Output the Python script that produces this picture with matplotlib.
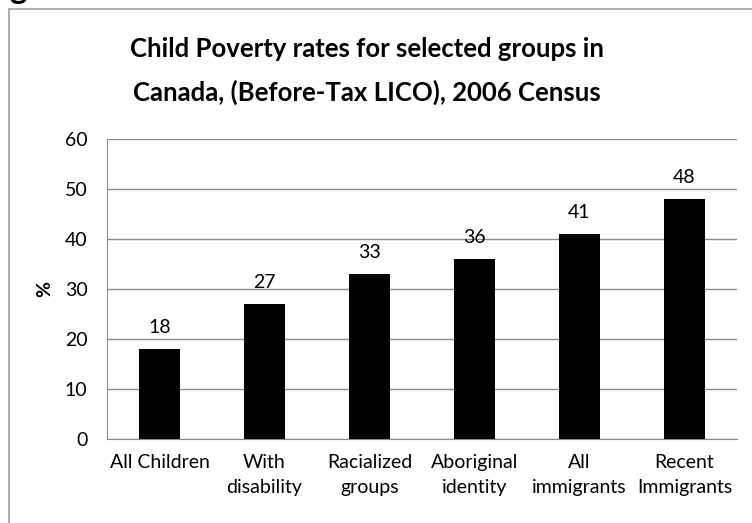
import matplotlib.pyplot as plt
from matplotlib.patches import Rectangle

# data
groups = ["All Children", "With\ndisability", "Racialized\ngroups", "Aboriginal\nidentity",
          "All\nimmigrants", "Recent\nImmigrants"]
rates = [18, 27, 33, 36, 41, 48]
yticks = [0, 10, 20, 30, 40, 50, 60]

plt.rcParams['font.family'] = ['Lato', 'DejaVu Sans']

W, H = 752, 523
fig = plt.figure(figsize=(W / 100, H / 100), dpi=100)

# outer frame (runs off the right and bottom edge)
fig.patches.append(Rectangle((9 / W, -0.05), 1.2, 1 - 9 / H + 0.05,
                             transform=fig.transFigure, fill=False,
                             edgecolor='#a0a0a0', linewidth=1.2))
# heading above the frame, cut off by the top edge as in the source
fig.text(9 / W, 1 + 1 / H, "g", fontsize=24, fontweight='bold', va='baseline', ha='left')

ax = fig.add_axes([107 / W, 1 - 439 / H, (737 - 107) / W, (439 - 139) / H])
x = range(len(groups))
bars = ax.bar(x, rates, width=0.39, color='black', zorder=3)
for xi, v in zip(x, rates):
    ax.text(xi, v + 2.6, str(v), ha='center', va='bottom', fontsize=14)

ax.set_ylim(0, 60)
ax.set_xlim(-0.5, len(groups) - 0.5)
ax.set_yticks(yticks)
ax.set_xticks(list(x))
ax.set_xticklabels(groups, fontsize=14, linespacing=1.55)
ax.tick_params(axis='y', labelsize=14, length=0, pad=14)
ax.tick_params(axis='x', length=0, pad=11)
ax.grid(axis='y', color='#8c8c8c', linewidth=1, zorder=0)
for s in ['top', 'right']:
    ax.spines[s].set_visible(False)
for s in ['left', 'bottom']:
    ax.spines[s].set_color('#8c8c8c')
ax.set_ylabel("%", fontsize=14, fontweight='bold', labelpad=8)

fig.text(367 / W, 1 - 71 / H,
         "Child Poverty rates for selected groups in\nCanada, (Before-Tax LICO), 2006 Census",
         ha='center', va='center', fontsize=18.5, fontweight='bold', linespacing=1.85)

fig.savefig("out.png", dpi=100)
